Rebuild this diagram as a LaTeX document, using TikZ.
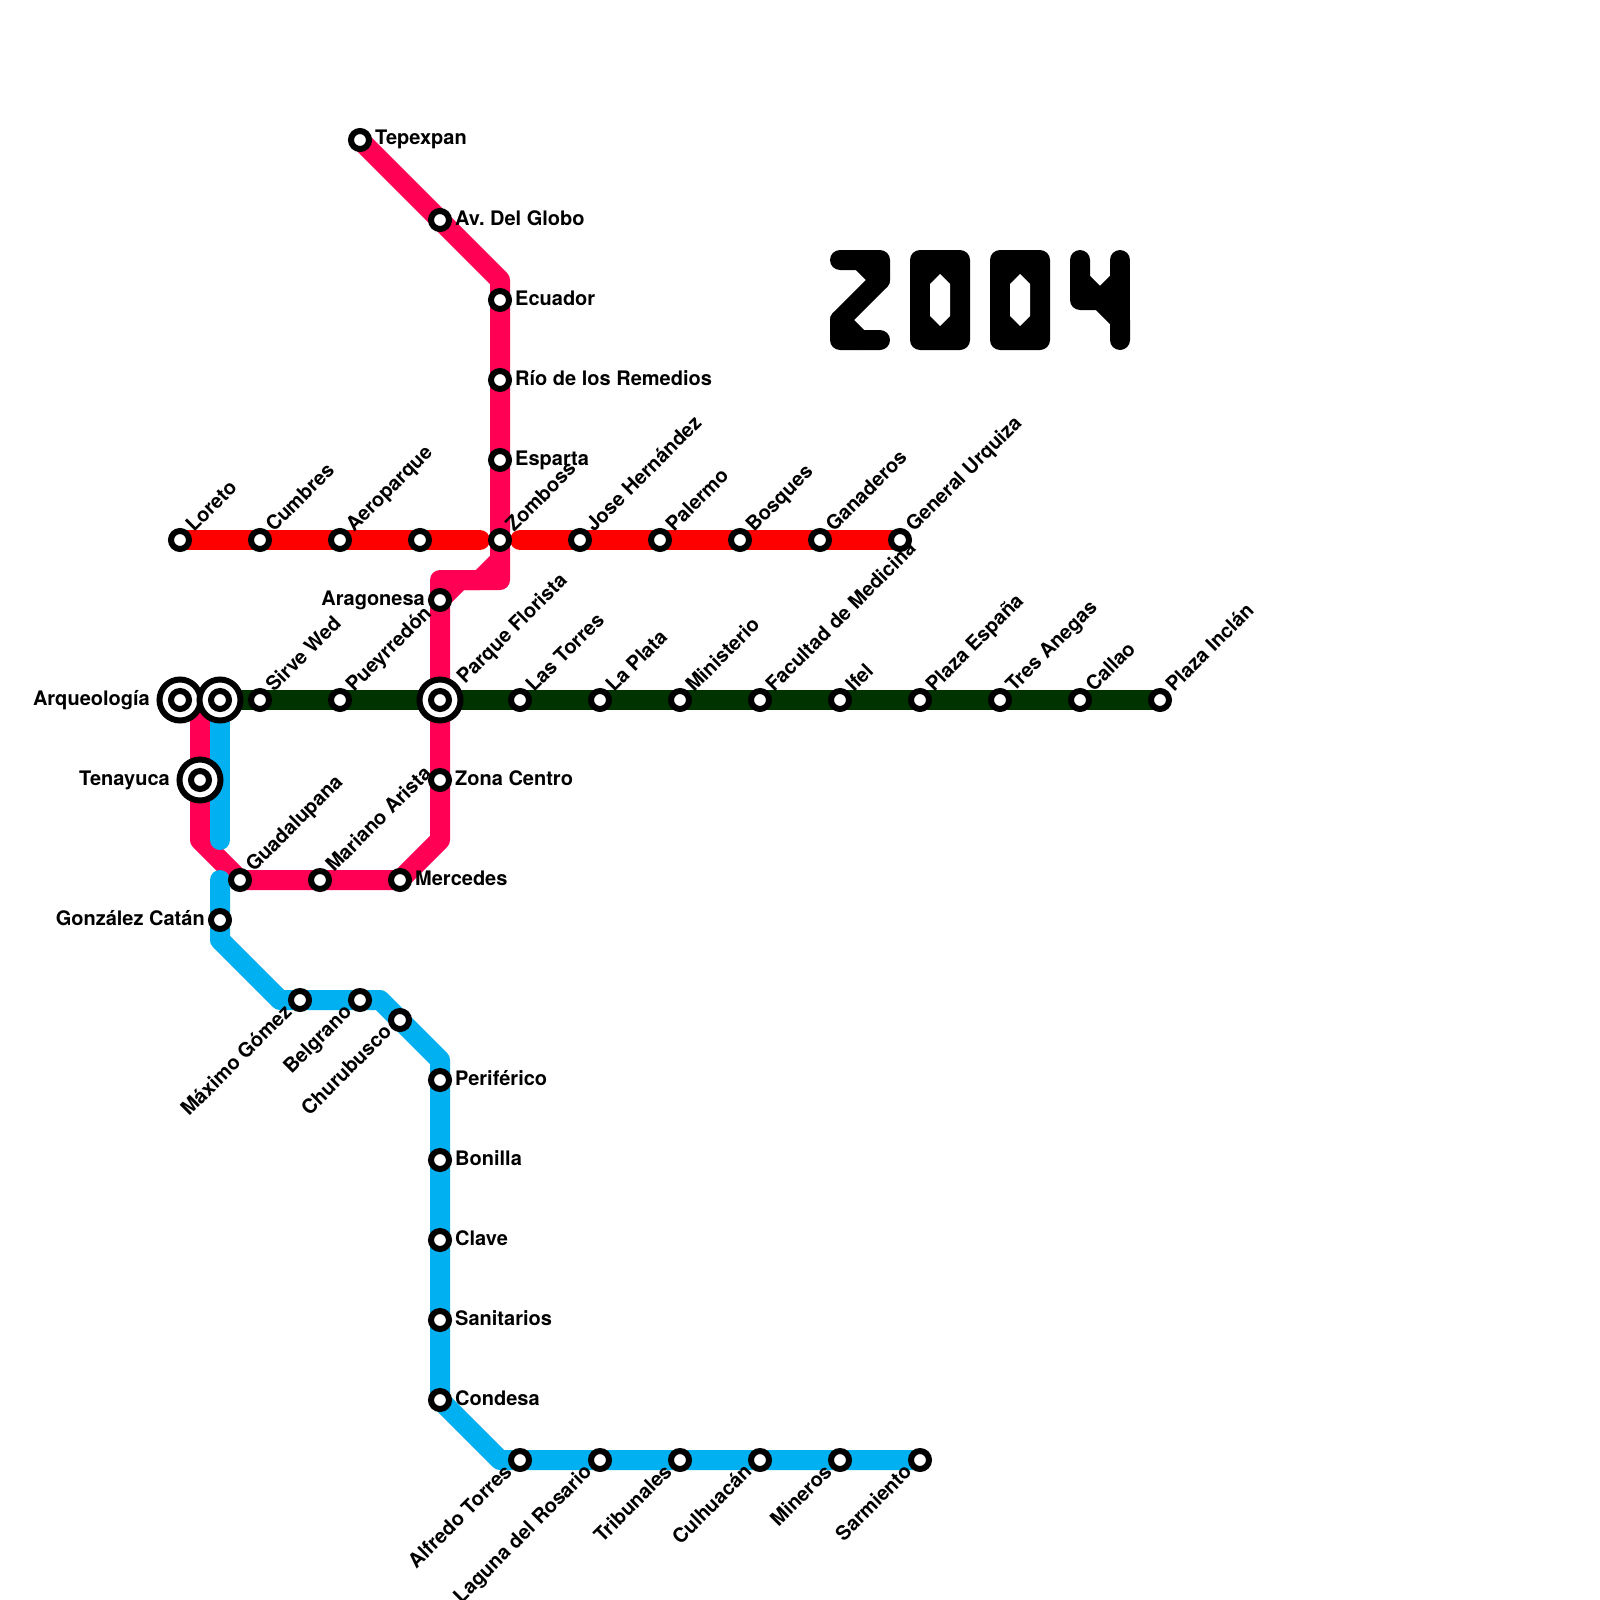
\documentclass[tikz,border=0pt]{standalone}
\usepackage{fontspec}
\setmainfont{TeX Gyre Heros}
\usetikzlibrary{backgrounds,calc}
\definecolor{cpink}{RGB}{255,0,85}
\definecolor{cblue}{RGB}{0,176,240}
\definecolor{cred}{RGB}{255,0,0}
\definecolor{cgreen}{RGB}{0,51,0}
\tikzset{
  x=1pt,y=-1pt,
  metro/.style={line width=20pt,line cap=round,line join=round},
  glyph/.style={line width=20pt,line cap=round,line join=round,draw=black},
  stn/.style={circle,draw=black,fill=white,line width=6pt,minimum size=18pt,inner sep=0pt,outer sep=0pt},
  hubouter/.style={circle,draw=black,fill=white,line width=6pt,minimum size=41pt,inner sep=0pt,outer sep=0pt},
  lbl/.style={inner sep=0pt,font=\fontsize{20}{24}\selectfont\bfseries},
  labE/.style={lbl,anchor=base west},
  labW/.style={lbl,anchor=base east},
  labNE/.style={lbl,anchor=base west,rotate=45},
  labSW/.style={lbl,anchor=base east,rotate=45},
}
% name, x, y
\newcommand\stnE[4]{\node[stn] (#1) at (#2,#3) {}; \node[labE] (#1t) at ($(#1.center)+(15,5)$) {#4};}
\newcommand\stnW[4]{\node[stn] (#1) at (#2,#3) {}; \node[labW] (#1t) at ($(#1.center)+(-15,5)$) {#4};}
\newcommand\stnNE[4]{\node[stn] (#1) at (#2,#3) {}; \node[labNE] (#1t) at ($(#1.center)+(14,-7)$) {#4};}
\newcommand\stnSW[4]{\node[stn] (#1) at (#2,#3) {}; \node[labSW] (#1t) at ($(#1.center)+(-7,13)$) {#4};}
\newcommand\hub[3]{\node[hubouter] (#1) at (#2,#3) {}; \node[stn] (#1i) at (#2,#3) {};}
\frenchspacing
\begin{document}
\begin{tikzpicture}
\useasboundingbox (0,0) rectangle (1600,1600);
% red line stations
\stnNE{loreto}{180}{540}{Loreto}
\stnNE{cumbres}{260}{540}{Cumbres}
\stnNE{aeroparque}{340}{540}{Aeroparque}
\node[stn] (sinnombre) at (420,540) {};
\coordinate (redA) at (480,540);
\coordinate (redB) at (520,540);
\stnNE{zomboss}{500}{540}{Zomboss}
\stnNE{jose}{580}{540}{Jose Hernández}
\stnNE{palermo}{660}{540}{Palermo}
\stnNE{bosques}{740}{540}{Bosques}
\stnNE{ganaderos}{820}{540}{Ganaderos}
\stnNE{urquiza}{900}{540}{General Urquiza}
% pink line stations
\stnE{tepexpan}{360}{140}{Tepexpan}
\stnE{globo}{440}{220}{Av. Del Globo}
\stnE{ecuador}{500}{300}{Ecuador}
\stnE{rio}{500}{380}{Río de los Remedios}
\stnE{esparta}{500}{460}{Esparta}
\stnW{aragonesa}{440}{600}{Aragonesa}
\stnE{zona}{440}{780}{Zona Centro}
\stnE{mercedes}{400}{880}{Mercedes}
\stnNE{mariano}{320}{880}{Mariano Arista}
\stnNE{guadalupana}{240}{880}{Guadalupana}
% green line stations
\hub{arq}{180}{700}
\node[labW] (arqt) at ($(arq.center)+(-30,5)$) {Arqueología};
\hub{hubb}{220}{700}
\stnNE{sirve}{260}{700}{Sirve Wed}
\stnNE{pueyrredon}{340}{700}{Pueyrredón}
\hub{parque}{440}{700}
\node[labNE] (parquet) at ($(parque.center)+(25,-15)$) {Parque Florista};
\stnNE{torres}{520}{700}{Las Torres}
\stnNE{plata}{600}{700}{La Plata}
\stnNE{ministerio}{680}{700}{Ministerio}
\stnNE{facultad}{760}{700}{Facultad de Medicina}
\stnNE{ifel}{840}{700}{Ifel}
\stnNE{espana}{920}{700}{Plaza España}
\stnNE{anegas}{1000}{700}{Tres Anegas}
\stnNE{callao}{1080}{700}{Callao}
\stnNE{inclan}{1160}{700}{Plaza Inclán}
\hub{tenayuca}{200}{780}
\node[labW] (tenayucat) at ($(tenayuca.center)+(-30,5)$) {Tenayuca};
% blue line stations
\stnW{catan}{220}{920}{González Catán}
\stnSW{maximo}{300}{1000}{Máximo Gómez}
\stnSW{belgrano}{360}{1000}{Belgrano}
\stnSW{churubusco}{400}{1020}{Churubusco}
\stnE{periferico}{440}{1080}{Periférico}
\stnE{bonilla}{440}{1160}{Bonilla}
\stnE{clave}{440}{1240}{Clave}
\stnE{sanitarios}{440}{1320}{Sanitarios}
\stnE{condesa}{440}{1400}{Condesa}
\stnSW{alfredo}{520}{1460}{Alfredo Torres}
\stnSW{laguna}{600}{1460}{Laguna del Rosario}
\stnSW{tribunales}{680}{1460}{Tribunales}
\stnSW{culhuacan}{760}{1460}{Culhuacán}
\stnSW{mineros}{840}{1460}{Mineros}
\stnSW{sarmiento}{920}{1460}{Sarmiento}
\begin{pgfonlayer}{background}
\draw[metro,cred] (loreto.center) -- (redA);
\draw[metro,cred] (redB) -- (urquiza.center);
\draw[metro,cgreen] (hubb.center) -- (inclan.center);
\draw[metro,cpink] (tepexpan.center) -- (500,280) -- (zomboss.center) -- (500,560) -- (500,580) -- (460,580) -- (aragonesa.center) -- (parque.center) -- (zona.center) -- (440,840) -- (mercedes.center) -- (guadalupana.center) -- (200,840) -- (tenayuca.center) -- (200,700);
\draw[metro,cpink] (500,560) -- (480,580) -- (440,580) -- (aragonesa.center);
\draw[metro,cblue] (hubb.center) -- (220,840);
\draw[metro,cblue] (220,880) -- (catan.center) -- (220,940) -- (280,1000) -- (maximo.center) -- (380,1000) -- (churubusco.center) -- (440,1060) -- (condesa.center) -- (500,1460) -- (sarmiento.center);
\end{pgfonlayer}
% 2004
\draw[glyph] (840,260) -- (880,260) -- (880,280) -- (840,320) -- (840,340) -- (880,340);
\draw[glyph] (860,260) -- (880,280);
\draw[glyph] (840,320) -- (860,340);
\fill[black,rounded corners=10pt] (910,250) rectangle (970,350);
\fill[white] (940,274) -- (950,284) -- (950,316) -- (940,326) -- (930,316) -- (930,284) -- cycle;
\fill[black,rounded corners=10pt] (990,250) rectangle (1050,350);
\fill[white] (1020,274) -- (1030,284) -- (1030,316) -- (1020,326) -- (1010,316) -- (1010,284) -- cycle;
\draw[glyph] (1080,260) -- (1080,300) -- (1100,300) -- (1120,320) -- (1120,340);
\draw[glyph] (1120,260) -- (1120,320);
\draw[glyph] (1080,280) -- (1100,300) -- (1120,280);
\end{tikzpicture}
\end{document}
